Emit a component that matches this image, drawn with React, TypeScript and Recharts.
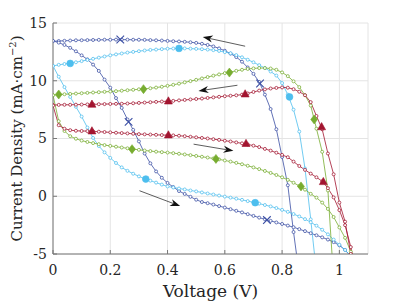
import React from 'react';
import { ComposedChart, Line, XAxis, YAxis, CartesianGrid, ReferenceLine } from 'recharts';

// Shared voltage grid (V)
const voltage = [0, 0.02, 0.04, 0.06, 0.08, 0.1, 0.12, 0.14, 0.16, 0.18, 0.2, 0.22, 0.24, 0.26, 0.28, 0.3, 0.32, 0.34, 0.36, 0.38, 0.4, 0.42, 0.44, 0.46, 0.48, 0.5, 0.52, 0.54, 0.56, 0.58, 0.6, 0.62, 0.64, 0.66, 0.68, 0.7, 0.72, 0.74, 0.76, 0.78, 0.8, 0.82, 0.84, 0.86, 0.88, 0.9, 0.92, 0.94, 0.96, 0.98, 1.0, 1.02, 1.04, 1.06];

// Current density (mA cm^-2) per scan
const darkBlueReverse = [13.42, 13.44, 13.46, 13.48, 13.5, 13.51, 13.52, 13.53, 13.54, 13.55, 13.55, 13.56, 13.56, 13.56, 13.55, 13.55, 13.54, 13.52, 13.5, 13.48, 13.45, 13.42, 13.4, 13.37, 13.33, 13.28, 13.2, 13.1, 12.97, 12.8, 12.6, 12.35, 12.05, 11.65, 11.15, 10.6, 9.9, 8.8, 7.55, 5.8, 3.4, 0.95, -3.1, -6.8];
const darkBlueForward = [13.45, 13.3, 13.1, 12.85, 12.55, 12.2, 11.85, 11.4, 10.85, 10.1, 9.4, 8.5, 7.65, 6.65, 5.75, 4.75, 3.7, 2.85, 2.15, 1.6, 1.15, 0.8, 0.45, 0.2, -0.05, -0.3, -0.5, -0.6, -0.72, -0.85, -0.98, -1.12, -1.26, -1.4, -1.55, -1.7, -1.85, -2.0, -2.13, -2.27, -2.4, -2.54, -2.68, -2.85, -3.02, -3.2, -3.38, -3.56, -3.75, -3.97, -4.25, -4.65, -5.2];
const lightBlueReverse = [11.28, 11.38, 11.45, 11.52, 11.6, 11.7, 11.8, 11.9, 12.0, 12.1, 12.2, 12.28, 12.36, 12.44, 12.5, 12.56, 12.62, 12.67, 12.7, 12.74, 12.77, 12.79, 12.8, 12.8, 12.78, 12.76, 12.73, 12.7, 12.65, 12.58, 12.48, 12.38, 12.22, 12.03, 11.82, 11.6, 11.35, 11.1, 10.8, 10.45, 9.8, 8.8, 7.5, 5.6, 2.4, -2.0, -6.6];
const lightBlueForward = [11.28, 10.35, 9.45, 8.6, 7.75, 6.9, 5.95, 5.05, 4.35, 3.8, 3.32, 2.88, 2.5, 2.2, 1.95, 1.72, 1.52, 1.35, 1.18, 1.01, 0.85, 0.76, 0.67, 0.59, 0.5, 0.42, 0.33, 0.24, 0.15, 0.06, -0.03, -0.12, -0.21, -0.31, -0.42, -0.53, -0.64, -0.76, -0.88, -1.02, -1.18, -1.35, -1.54, -1.75, -1.98, -2.25, -2.55, -2.9, -3.3, -3.75, -4.2, -4.65, -5.2];
const greenReverse = [8.75, 8.8, 8.83, 8.86, 8.89, 8.92, 8.95, 8.98, 9.01, 9.04, 9.07, 9.1, 9.14, 9.18, 9.22, 9.26, 9.3, 9.35, 9.41, 9.48, 9.56, 9.65, 9.75, 9.86, 9.97, 10.08, 10.2, 10.32, 10.44, 10.55, 10.66, 10.76, 10.86, 10.95, 11.02, 11.07, 11.1, 11.1, 11.06, 10.95, 10.72, 10.4, 9.95, 9.45, 8.75, 7.85, 5.85, 3.85, 0.5, -7.2];
const greenForward = [8.75, 6.5, 5.65, 5.2, 4.98, 4.82, 4.7, 4.6, 4.51, 4.43, 4.36, 4.29, 4.22, 4.15, 4.08, 4.02, 3.96, 3.91, 3.86, 3.82, 3.78, 3.73, 3.68, 3.62, 3.56, 3.49, 3.42, 3.35, 3.27, 3.19, 3.1, 3.0, 2.89, 2.77, 2.64, 2.5, 2.35, 2.19, 2.02, 1.84, 1.64, 1.42, 1.17, 0.89, 0.57, 0.21, -0.12, -0.55, -1.1, -1.8, -2.7, -3.6, -4.8, -6.2];
const redReverse = [7.9, 7.91, 7.92, 7.92, 7.93, 7.94, 7.95, 7.96, 7.97, 7.98, 7.99, 8.0, 8.01, 8.03, 8.05, 8.08, 8.11, 8.14, 8.17, 8.2, 8.23, 8.26, 8.3, 8.34, 8.38, 8.42, 8.46, 8.51, 8.56, 8.61, 8.66, 8.7, 8.74, 8.8, 8.9, 9.03, 9.15, 9.25, 9.33, 9.38, 9.42, 9.4, 9.27, 9.05, 8.75, 8.15, 6.95, 5.8, 3.7, 1.9, -0.55, -2.2, -5.0, -7.8];
const redForward = [7.85, 6.15, 5.85, 5.72, 5.67, 5.65, 5.64, 5.62, 5.59, 5.56, 5.53, 5.5, 5.47, 5.44, 5.41, 5.38, 5.36, 5.34, 5.32, 5.3, 5.29, 5.27, 5.24, 5.2, 5.15, 5.1, 5.05, 5.0, 4.94, 4.88, 4.81, 4.74, 4.66, 4.58, 4.49, 4.38, 4.26, 4.1, 3.95, 3.77, 3.58, 3.38, 3.0, 2.62, 2.28, 1.96, 1.64, 1.3, 0.7, -0.1, -1.2, -2.5, -4.4, -6.8];

// Highlight markers [V, J]
const darkBlueReverseMarks = [[0.235, 13.57], [0.723, 9.76]];
const darkBlueForwardMarks = [[0.264, 6.44], [0.747, -2.06]];
const lightBlueReverseMarks = [[0.06, 11.5], [0.44, 12.8], [0.826, 8.6]];
const lightBlueForwardMarks = [[0.324, 1.49], [0.706, -0.56]];
const greenReverseMarks = [[0.02, 8.81], [0.316, 9.27], [0.616, 10.71], [0.912, 6.65]];
const greenForwardMarks = [[0.276, 4.08], [0.569, 3.23], [0.866, 0.85]];
const redReverseMarks = [[0.136, 7.95], [0.403, 8.23], [0.671, 8.84], [0.938, 6.0]];
const redForwardMarks = [[0.136, 5.64], [0.403, 5.29], [0.674, 4.55], [0.944, 1.25]];

// Scan direction arrows: [tailV, tailJ, tipV, tipJ]
const arrows = [
  [0.671, 12.99, 0.523, 13.79],
  [0.644, 9.61, 0.508, 9.12],
  [0.491, 4.51, 0.63, 3.93],
  [0.302, 0.48, 0.444, -0.85],
];

const xTicks = [0, 0.2, 0.4, 0.6, 0.8, 1];
const yTicks = [-5, 0, 5, 10, 15];

const DARK_BLUE = '#3a4ea3';
const LIGHT_BLUE = '#4dbeee';
const GREEN = '#77ac30';
const RED = '#a2142f';

const FONT = 'DejaVu Serif';

const toPoints = (js: number[]) => js.map((j, i) => ({ v: voltage[i], j }));
const toMarks = (pts: number[][]) => pts.map(([v, j]) => ({ v, j }));

const makeMarker = (kind: string, color: string) => (props: any) => {
  const { cx, cy, index } = props;
  if (cx == null || cy == null || isNaN(cx) || isNaN(cy)) return <g key={`m${index}`} />;
  if (kind === 'x') {
    const s = 3.8;
    return (
      <path key={`m${index}`} d={`M${cx - s},${cy - s}L${cx + s},${cy + s}M${cx - s},${cy + s}L${cx + s},${cy - s}`} stroke={color} strokeWidth={1.1} fill="none" />
    );
  }
  if (kind === 'o') {
    return <circle key={`m${index}`} cx={cx} cy={cy} r={3.4} fill={color} stroke={color} strokeWidth={0.6} />;
  }
  if (kind === 'd') {
    return (
      <path key={`m${index}`} d={`M${cx},${cy - 4.5}L${cx + 3.4},${cy}L${cx},${cy + 4.5}L${cx - 3.4},${cy}Z`} fill={color} stroke={color} strokeWidth={0.6} />
    );
  }
  return (
    <path key={`m${index}`} d={`M${cx},${cy - 4.4}L${cx + 4},${cy + 2.8}L${cx - 4},${cy + 2.8}Z`} fill={color} stroke={color} strokeWidth={0.6} />
  );
};

const series = [
  { id: 'dbr', color: DARK_BLUE, values: darkBlueReverse, marks: darkBlueReverseMarks, kind: 'x' },
  { id: 'dbf', color: DARK_BLUE, values: darkBlueForward, marks: darkBlueForwardMarks, kind: 'x' },
  { id: 'lbr', color: LIGHT_BLUE, values: lightBlueReverse, marks: lightBlueReverseMarks, kind: 'o' },
  { id: 'lbf', color: LIGHT_BLUE, values: lightBlueForward, marks: lightBlueForwardMarks, kind: 'o' },
  { id: 'gr', color: GREEN, values: greenReverse, marks: greenReverseMarks, kind: 'd' },
  { id: 'gf', color: GREEN, values: greenForward, marks: greenForwardMarks, kind: 'd' },
  { id: 'rr', color: RED, values: redReverse, marks: redReverseMarks, kind: 't' },
  { id: 'rf', color: RED, values: redForward, marks: redForwardMarks, kind: 't' },
];

const Arrow = (props: any) => {
  const { x1, y1, x2, y2 } = props;
  const dx = x2 - x1;
  const dy = y2 - y1;
  const L = Math.hypot(dx, dy) || 1;
  const ux = dx / L;
  const uy = dy / L;
  const hl = 10;
  const hw = 3.6;
  const notch = 7;
  const bx = x2 - ux * hl;
  const by = y2 - uy * hl;
  const nx = x2 - ux * notch;
  const ny = y2 - uy * notch;
  const px = -uy;
  const py = ux;
  return (
    <g>
      <line x1={x1} y1={y1} x2={nx} y2={ny} stroke="#333" strokeWidth={0.8} />
      <path d={`M${x2},${y2}L${bx + px * hw},${by + py * hw}L${nx},${ny}L${bx - px * hw},${by - py * hw}Z`} fill="#111" />
    </g>
  );
};

const XLabel = (props: any) => {
  const vb = props.viewBox || {};
  const cx = (vb.x ?? 53) + (vb.width ?? 315) / 2;
  return (
    <text x={cx} y={297} textAnchor="middle" fontFamily={FONT} fontSize={17} fill="#262626">
      Voltage (V)
    </text>
  );
};

const YLabel = (props: any) => {
  const vb = props.viewBox || {};
  const cy = (vb.y ?? 23) + (vb.height ?? 231) / 2;
  const x = 22;
  return (
    <text x={x} y={cy} transform={`rotate(-90, ${x}, ${cy})`} textAnchor="middle" fontFamily={FONT} fontSize={15} fill="#262626">
      Current Density (mA·cm<tspan dy={-6} fontSize={10}>−2</tspan><tspan dy={6}>)</tspan>
    </text>
  );
};

const tickStyle = { fontSize: 14, fill: '#262626', fontFamily: FONT };
const AXIS_COLOR = '#777';

export default function App() {
  return (
    <div style={{ position: 'absolute', left: 0, top: 0, width: 407, height: 305, background: '#fff' }}>
      <ComposedChart width={407} height={305} margin={{ top: 23, right: 39, bottom: 0, left: 0 }}>
        <CartesianGrid stroke="#e4e4e4" strokeWidth={1} />
        <XAxis
          dataKey="v"
          type="number"
          domain={[0, 1.1]}
          ticks={xTicks}
          interval={0}
          allowDataOverflow
          height={51}
          tickSize={-4}
          tickMargin={15}
          tick={tickStyle}
          stroke={AXIS_COLOR}
          label={<XLabel />}
        />
        <XAxis
          xAxisId="top"
          orientation="top"
          type="number"
          domain={[0, 1.1]}
          ticks={xTicks}
          interval={0}
          allowDataOverflow
          height={0}
          tickSize={-4}
          tick={false}
          stroke={AXIS_COLOR}
        />
        <YAxis
          dataKey="j"
          type="number"
          domain={[-5, 15]}
          ticks={yTicks}
          interval={0}
          allowDataOverflow
          width={53}
          tickSize={-4}
          tickMargin={10}
          tick={tickStyle}
          stroke={AXIS_COLOR}
          label={<YLabel />}
        />
        <YAxis
          yAxisId="right"
          orientation="right"
          type="number"
          domain={[-5, 15]}
          ticks={yTicks}
          interval={0}
          allowDataOverflow
          width={0}
          tickSize={-4}
          tick={false}
          stroke={AXIS_COLOR}
        />
        {series.map((s) => (
          <Line
            key={s.id}
            data={toPoints(s.values)}
            dataKey="j"
            type="linear"
            stroke={s.color}
            strokeWidth={0.8}
            dot={{ r: 1.5, stroke: s.color, strokeWidth: 0.75, fill: '#fff' }}
            activeDot={false}
            isAnimationActive={false}
          />
        ))}
        {series.map((s) => (
          <Line
            key={`${s.id}-marks`}
            data={toMarks(s.marks)}
            dataKey="j"
            stroke="none"
            dot={makeMarker(s.kind, s.color)}
            activeDot={false}
            isAnimationActive={false}
          />
        ))}
        {arrows.map((a, i) => (
          <ReferenceLine
            key={`arrow${i}`}
            segment={[{ x: a[0], y: a[1] }, { x: a[2], y: a[3] }]}
            shape={Arrow}
            ifOverflow="visible"
          />
        ))}
      </ComposedChart>
    </div>
  );
}
